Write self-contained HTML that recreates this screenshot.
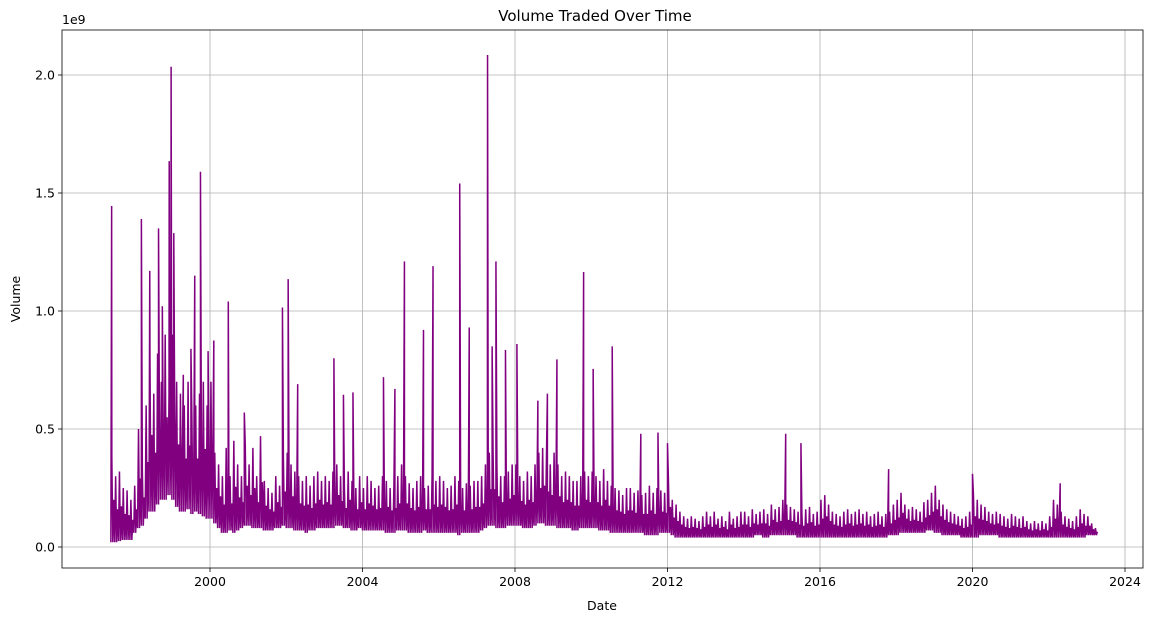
<!DOCTYPE html>
<html><head><meta charset="utf-8"><style>
body{margin:0;background:#fff;font-family:"Liberation Sans","DejaVu Sans",sans-serif;}
svg text{font-family:"DejaVu Sans","Liberation Sans",sans-serif;font-size:12.5px;fill:#000}
</style></head><body>
<svg id="chart" width="1156" height="622" xmlns="http://www.w3.org/2000/svg">
<rect x="0" y="0" width="1156" height="622" fill="#fff"/>
<g id="grid"></g><g id="series"></g><g id="axes"></g>
<text x="595" y="21" text-anchor="middle" style="font-size:15px">Volume Traded Over Time</text>
<text x="602" y="610" text-anchor="middle">Date</text>
<text x="20" y="299" text-anchor="middle" transform="rotate(-90 20 299)">Volume</text>
<text x="62" y="24">1e9</text>
</svg>
<script>
const startYear = 1997.4;
const bucketYears = 0.1;
const highs = [380,300,320,250,240,200,
260,500,330,600,800,650,820,700,900,650,
900,700,650,600,700,550,600,650,700,600,
700,400,350,300,420,300,450,350,300,430,
350,420,300,470,280,250,230,300,260,380,
400,350,320,300,280,300,260,300,320,280,
300,280,320,350,300,250,320,280,250,300,
250,300,280,250,260,300,280,250,270,300,
350,300,270,250,280,300,250,260,300,280,
300,280,250,260,300,280,250,270,260,280,
280,300,350,400,400,350,300,300,320,350,
350,300,280,320,300,350,400,420,380,350,
400,350,300,320,300,280,280,300,320,300,
320,300,280,330,280,260,250,240,220,250,
250,230,240,220,230,260,230,250,240,230,
280,200,180,150,130,120,130,120,110,130,
150,130,150,120,130,110,150,120,130,150,
150,130,160,140,150,160,140,180,160,170,
200,180,170,160,150,140,160,170,140,150,
200,220,180,150,140,130,150,160,140,150,
160,140,150,130,140,150,130,140,150,180,
200,230,180,160,170,160,150,190,200,230,
260,200,180,160,150,140,130,120,130,150,
220,200,180,170,150,140,150,140,130,120,
140,130,120,130,110,100,110,100,110,100,
130,200,180,150,130,120,110,130,160,140,
130,100,80];
const lows = [20,20,25,30,30,30,
60,80,90,120,150,150,180,200,200,220,
200,170,150,150,160,140,150,140,130,120,
120,100,80,60,60,70,60,70,80,90,
90,80,80,80,70,70,70,80,80,90,
80,80,70,70,70,60,70,70,80,80,
80,80,80,90,90,80,80,70,70,80,
70,70,70,70,70,70,60,60,60,70,
70,70,60,60,60,60,70,60,60,60,
60,60,60,60,60,50,60,60,60,60,
60,70,80,90,90,80,80,80,90,90,
90,90,80,80,80,90,100,100,90,90,
90,80,80,80,80,70,70,80,80,80,
80,80,70,70,70,60,60,60,60,60,
60,60,60,60,50,50,50,50,60,60,
60,50,40,40,40,40,40,40,40,40,
40,40,40,40,40,40,40,40,40,40,
40,40,40,50,50,40,40,50,50,50,
50,50,50,50,40,40,40,40,40,40,
40,40,40,40,40,40,40,40,40,40,
40,40,40,40,40,40,40,40,50,50,
50,60,60,60,60,60,60,60,70,70,
60,60,50,50,50,50,50,40,40,40,
40,40,50,50,50,50,50,40,40,40,
40,40,40,40,40,40,40,40,40,40,
40,40,40,40,40,40,40,40,40,40,
50,50,50];
const spikeDates = [1997.42,1998.2,1998.42,1998.65,1998.75,1998.93,1998.98,1999.05,1999.3,1999.5,1999.6,1999.75,1999.95,2000.1,2000.48,2000.9,2001.9,2002.05,2002.3,2003.25,2003.5,2003.75,2004.55,2004.85,2005.1,2005.6,2005.85,2006.55,2006.8,2007.28,2007.4,2007.5,2007.75,2008.05,2008.6,2008.85,2009.1,2009.8,2010.05,2010.55,2011.3,2011.75,2012.0,2015.1,2015.5,2017.8,2020.0,2022.3];
const spikeValues = [1445,1390,1170,1350,1020,1635,2035,1330,730,840,1150,1590,830,875,1040,570,1015,1135,690,800,645,655,720,670,1210,920,1190,1540,930,2085,850,1210,835,860,620,650,795,1165,755,850,480,485,440,480,440,330,310,270];
const yTicks = [0,0.5,1.0,1.5,2.0];
const yTickLabels = ["0.0","0.5","1.0","1.5","2.0"];
const xTicks = [2000,2004,2008,2012,2016,2020,2024];

const L=62,R=1143,T=30,B=568;
const xs = y => 210 + (y-2000)*38.125;
const ys = v => 547 - v/1e3*236; // v in millions
const NS="http://www.w3.org/2000/svg";
function mk(tag,attrs,parent){const e=document.createElementNS(NS,tag);for(const k in attrs)e.setAttribute(k,attrs[k]);parent.appendChild(e);return e;}
const grid=document.getElementById('grid'),axes=document.getElementById('axes'),series=document.getElementById('series');
yTicks.forEach((t,i)=>{const y=ys(t*1000);
 const g=mk('line',{x1:L,x2:R,y1:y,y2:y,stroke:'#b0b0b0','stroke-width':0.8},grid);
 
 
 mk('line',{x1:L-4,x2:L,y1:y,y2:y,stroke:'#000','stroke-width':0.8},axes);
 const tx=mk('text',{x:L-7,y:y+4.5,'text-anchor':'end'},axes);tx.textContent=yTickLabels[i];
 
 });
xTicks.forEach(t=>{const x=xs(t);
 const g=mk('line',{x1:x,x2:x,y1:T,y2:B,stroke:'#b0b0b0','stroke-width':0.8},grid);
 
 
 mk('line',{x1:x,x2:x,y1:B,y2:B+4,stroke:'#000','stroke-width':0.8},axes);
 const tx=mk('text',{x:x,y:B+18,'text-anchor':'middle'},axes);tx.textContent=t;
 
 });
const frame=mk('rect',{x:L,y:T,width:R-L,height:B-T,fill:'none',stroke:'#000','stroke-width':0.8},axes);


// combine buckets and spikes into one time-ordered sequence
let pts=[];
highs.forEach((h,i)=>{const t=startYear+i*bucketYears;
 pts.push([t,lows[i]]);pts.push([t+bucketYears*0.25,h]);
 pts.push([t+bucketYears*0.5,lows[i]]);pts.push([t+bucketYears*0.75,(h+lows[i])/2]);});
spikeDates.forEach((d,i)=>{pts.push([d,spikeValues[i]]);});
pts.sort((a,b)=>a[0]-b[0]);
let dstr=pts.map((p,i)=>(i?'L':'M')+xs(p[0]).toFixed(2)+','+ys(p[1]).toFixed(2)).join('');
const path=mk('path',{d:dstr,fill:'none',stroke:'#800080','stroke-width':1.5,'stroke-linejoin':'miter'},series);


</script>
</body></html>
